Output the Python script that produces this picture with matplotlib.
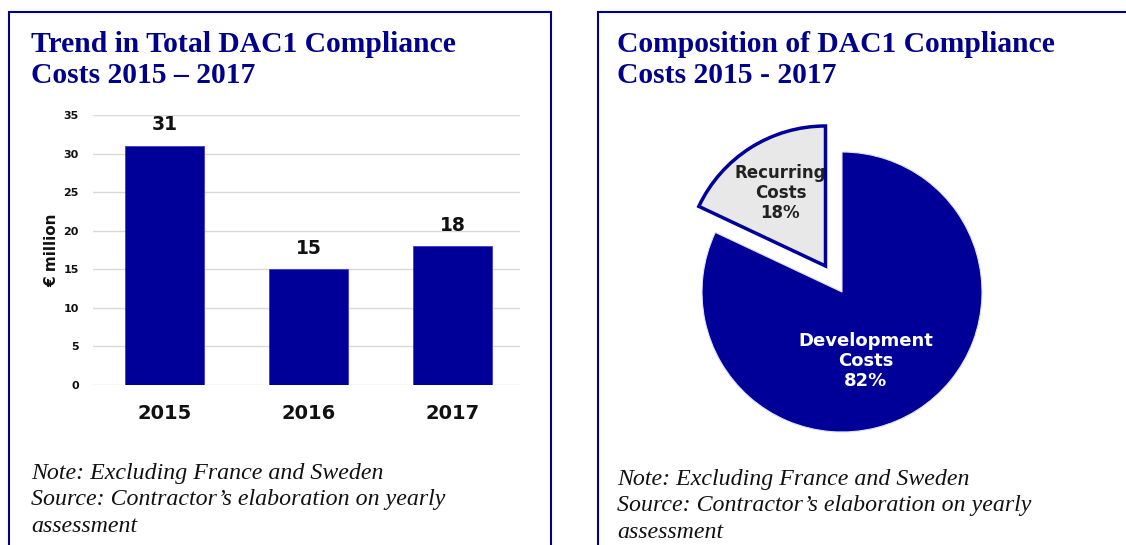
import matplotlib
matplotlib.use("Agg")
import matplotlib.pyplot as plt
from matplotlib.patches import Rectangle

# Data
years = ["2015", "2016", "2017"]
costs = [31, 15, 18]
yticks = [0, 5, 10, 15, 20, 25, 30, 35]
pie_labels = ["Development\nCosts\n82%", "Recurring\nCosts\n18%"]
pie_shares = [82, 18]

NAVY = "#000099"
W, H = 1126, 545
fig = plt.figure(figsize=(W / 100, H / 100), dpi=100)

def fx(px):
    return px / W

def fy(py):
    return 1 - py / H

# Panel borders (right panel continues beyond the right edge)
for x0, x1 in [(9, 551), (598, 1160)]:
    fig.patches.append(Rectangle((fx(x0), fy(H + 20)), fx(x1 - x0), (H + 8) / H,
                                 transform=fig.transFigure, fill=False,
                                 edgecolor="#00008b", lw=1.5, clip_on=False))

title_kw = dict(family="Liberation Serif", weight="bold", color="#00008b", fontsize=21.3,
                va="baseline", ha="left")
fig.text(fx(31), fy(52), "Trend in Total DAC1 Compliance", **title_kw)
fig.text(fx(31), fy(83), "Costs 2015 \u2013 2017", **title_kw)
fig.text(fx(617), fy(52), "Composition of DAC1 Compliance", **title_kw)
fig.text(fx(617), fy(83), "Costs 2015 - 2017", **title_kw)

note_kw = dict(family="Liberation Serif", style="italic", color="#111111", fontsize=17.2,
               va="baseline", ha="left")
for (x, ys) in [(31, (479, 505, 532)), (617, (485, 511, 538))]:
    fig.text(fx(x), fy(ys[0]), "Note: Excluding France and Sweden", **note_kw)
    fig.text(fx(x), fy(ys[1]), "Source: Contractor\u2019s elaboration on yearly", **note_kw)
    fig.text(fx(x), fy(ys[2]), "assessment", **note_kw)

# Bar chart
ax = fig.add_axes([fx(92.7), fy(385), fx(427.5), 270 / H])
xs = range(len(years))
ax.bar(xs, costs, width=0.545, color=NAVY, edgecolor="#3a3ad0", lw=0.6, zorder=3)
for x, v in zip(xs, costs):
    ax.text(x, v + 1.5, str(v), ha="center", va="bottom", fontsize=13.5,
            fontweight="bold", family="DejaVu Sans", color="#111111")
ax.set_xlim(-0.5, 2.47)
ax.set_ylim(0, 35)
ax.set_yticks(yticks)
ax.set_yticklabels([str(t) for t in yticks], fontsize=8, fontweight="bold", color="#111111")
ax.set_xticks(list(xs))
ax.set_xticklabels(years, fontsize=14, fontweight="bold", color="#111111")
ax.tick_params(axis="both", length=0)
ax.tick_params(axis="y", pad=10)
ax.tick_params(axis="x", pad=14)
ax.yaxis.grid(True, color="#d9d9d9", lw=1)
ax.set_axisbelow(True)
for s in ax.spines.values():
    s.set_visible(False)
ax.set_ylabel("\u20ac million", fontsize=11, fontweight="bold", labelpad=3, color="#111111")

# Pie chart
R = 140
half = 1.6
axp = fig.add_axes([fx(842 - half * R), fy(292 + half * R), fx(2 * half * R), 2 * half * R / H])
wedges, texts = axp.pie(pie_shares, startangle=90, counterclock=False,
                        explode=[0, 0.22], colors=[NAVY, "#e8e8e8"],
                        wedgeprops=dict(lw=1), radius=1)
wedges[0].set_edgecolor("#e0e0ff")
wedges[0].set_linewidth(0.8)
wedges[1].set_edgecolor(NAVY)
wedges[1].set_linewidth(2.5)
axp.text(0.17, -0.49, pie_labels[0], ha="center", va="center", color="white",
         fontsize=13, fontweight="bold", linespacing=1.15)
axp.text(-0.44, 0.71, pie_labels[1], ha="center", va="center", color="#222222",
         fontsize=12, fontweight="bold", linespacing=1.15)
axp.set_xlim(-half, half)
axp.set_ylim(-half, half)
axp.set_aspect("auto")
axp.axis("off")

fig.savefig("out.png", dpi=100)
